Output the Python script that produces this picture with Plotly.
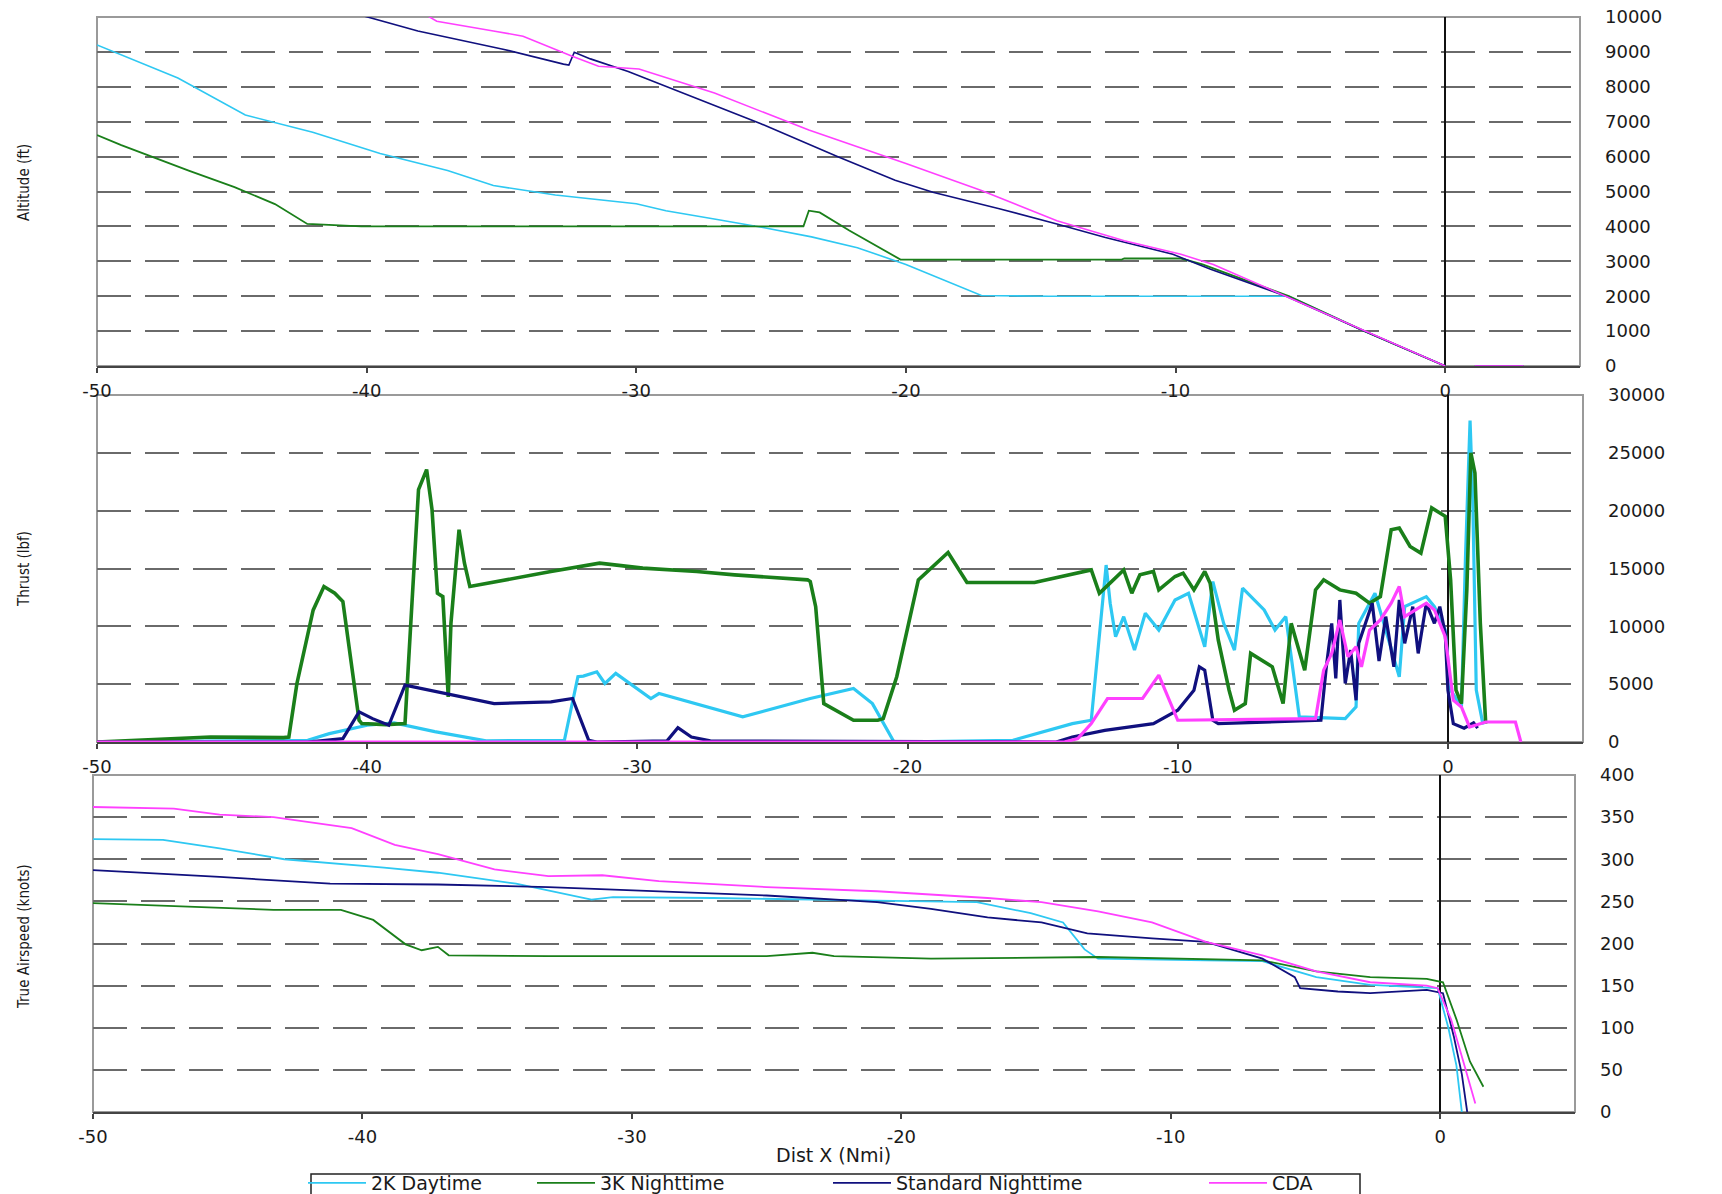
import plotly.graph_objects as go

# ---------------- data ----------------
series_names = ["2K Daytime", "3K Nighttime", "Standard Nighttime", "CDA"]
series_colors = ["#2EC8F2", "#1A7F1A", "#10107E", "#FF40FF"]

x_tickvals = [-50, -40, -30, -20, -10, 0]
x_ticktext = ["-50", "-40", "-30", "-20", "-10", "0"]

alt_tickvals = [0, 1000, 2000, 3000, 4000, 5000, 6000, 7000, 8000, 9000, 10000]
alt_ticktext = ["0", "1000", "2000", "3000", "4000", "5000", "6000", "7000", "8000", "9000", "10000"]
thr_tickvals = [0, 5000, 10000, 15000, 20000, 25000, 30000]
thr_ticktext = ["0", "5000", "10000", "15000", "20000", "25000", "30000"]
tas_tickvals = [0, 50, 100, 150, 200, 250, 300, 350, 400]
tas_ticktext = ["0", "50", "100", "150", "200", "250", "300", "350", "400"]

# Altitude (ft) vs distance (Nmi)
alt_2k_x = [-50, -47, -44.5, -42, -39.5, -37, -35.3, -33, -30, -28.9, -27, -25.3, -23.5, -21.8,
            -20.0, -17.2, -14.7, -10, -5.8, -3, 0]
alt_2k_y = [9200, 8250, 7190, 6700, 6090, 5600, 5170, 4900, 4650, 4450, 4200, 3970, 3700, 3390,
            2910, 2020, 2000, 2000, 2000, 1000, 0]

alt_3k_x = [-50, -49.1, -46.6, -44.9, -43.4, -42.2, -41, -40.2, -23.8, -23.6, -23.2, -22.1, -20.2,
            -12, -11.9, -9.8, -9.0, -5.8, -3, 0]
alt_3k_y = [6615, 6330, 5600, 5125, 4640, 4070, 4030, 4000, 4000, 4450, 4400, 3880, 3050,
            3050, 3080, 3080, 2910, 2000, 1000, 0]

alt_std_x = [-41, -40.2, -38.1, -34.9, -32.7, -32.5, -32.3, -31.7, -30.3, -28.9, -25.4, -22.5,
             -20.4, -19.0, -16.5, -14.4, -12.6, -10.1, -8.7, -5.9, -3, 0, None, 1.1, 2.9]
alt_std_y = [10200, 10050, 9600, 9070, 8650, 8620, 8990, 8800, 8440, 8010, 6950, 5990,
             5320, 4980, 4500, 4070, 3680, 3200, 2770, 2000, 1000, 0, None, 0, 0]

alt_cda_x = [-38, -37.4, -35.3, -34.2, -32.4, -31.4, -29.9, -27.1, -23.6, -20.0, -17.2, -14.4,
             -11.9, -9.8, -8.6, -5.9, -3, 0, None, 1.1, 2.9]
alt_cda_y = [10150, 9880, 9600, 9450, 8880, 8590, 8510, 7820, 6760, 5800, 5030, 4160,
             3590, 3200, 2910, 2000, 1000, 0, None, 0, 0]

# Thrust (lbf) vs distance (Nmi)
thr_2k_x = [-50, -42.2, -41.4, -40.0, -39.0, -37.5, -35.6, -32.7, -32.2, -32.0, -31.5, -31.2,
            -30.8, -29.5, -29.2, -26.1, -23.6, -22.0, -21.3, -20.5, -16.1, -13.9, -13.2, -12.9,
            -12.65, -12.5, -12.3, -12.0, -11.6, -11.2, -10.7, -10.1, -9.6, -9.0, -8.7, -8.3,
            -7.9, -7.6, -6.8, -6.4, -6.0, -5.8, -5.5, -3.8, -3.4, -3.3, -2.7, -2.3, -1.8, -1.6,
            -0.8, -0.5, -0.1, 0.1, 0.5, 0.65, 0.82, 0.92, 1.05, 1.3]
thr_2k_y = [0, 150, 720, 1450, 1650, 900, 100, 150, 5640, 5700, 6070, 5060,
            5930, 3760, 4190, 2170, 3760, 4620, 3320, 0, 150, 1590, 1880, 8820,
            15300, 12000, 9100, 10840, 7950, 11130, 9680, 12280, 12860, 8240, 13870, 10260,
            7950, 13300, 11420, 9680, 10840, 7370, 2170, 2020, 3030, 10260, 12860, 9680, 5640, 11700,
            12570, 11700, 9680, 4480, 3030, 15950, 27800, 21000, 4480, 1500]

thr_3k_x = [-50, -48.1, -45.8, -43.1, -42.9, -42.6, -42.0, -41.6, -41.2, -40.9, -40.7, -40.3,
            -40.2, -39.3, -38.6, -38.5, -38.3, -38.1, -37.8, -37.6, -37.4, -37.2, -37.0, -36.9,
            -36.6, -36.4, -36.2, -34.9, -33.2, -31.4, -29.8, -27.8, -26.4, -23.7, -23.6, -23.4,
            -23.1, -22.0, -21.1, -20.9, -20.4, -19.6, -18.5, -17.8, -15.3, -13.2, -12.9, -12.7,
            -12.0, -11.7, -11.4, -10.9, -10.7, -10.1, -9.8, -9.4, -9.0, -8.8, -8.5, -8.1,
            -7.9, -7.5, -7.3, -6.5, -6.1, -5.8, -5.3, -4.9, -4.6, -4.0, -3.4, -2.9,
            -2.5, -2.1, -1.8, -1.4, -1.0, -0.6, -0.3, -0.1, 0.1, 0.3, 0.5, 0.7,
            0.85, 1.0, 1.2, 1.4]
thr_3k_y = [0, 200, 430, 375, 430, 5060, 11400, 13440, 12860, 12140, 8530, 1880,
            1590, 1500, 1590, 5640, 13150, 21820, 23550, 20090, 12860, 12570, 3900, 10260,
            18350, 15460, 13440, 14020, 14740, 15460, 15030, 14740, 14450, 14020, 13870, 11700,
            3320, 1880, 1880, 2020, 5640, 14020, 16390, 13790, 13790, 14880, 12860, 13300,
            14880, 12860, 14450, 14740, 13150, 14310, 14600, 13150, 14740, 13720, 8820, 4480,
            2750, 3320, 7660, 6500, 3320, 10260, 6210, 13150, 14020, 13150, 12860, 12000,
            12570, 18350, 18500, 16900, 16330, 20240, 19800, 19510, 14020, 4480, 3320, 13150,
            25000, 23270, 10260, 1590]

thr_std_x = [-50, -42.2, -40.9, -40.3, -39.8, -39.2, -38.6, -37.1, -35.3, -33.2, -32.4, -31.8,
             -31.5, -28.9, -28.5, -28.0, -27.3, -14.5, -13.9, -12.7, -10.9, -10.0, -9.4, -9.2,
             -9.0, -8.7, -8.5, -4.7, -4.5, -4.3, -4.15, -4.0, -3.8, -3.6, -3.4, -3.3,
             -3.0, -2.8, -2.55, -2.3, -2.0, -1.8, -1.6, -1.3, -1.1, -0.8, -0.5, -0.3,
             -0.1, 0.0, 0.2, 0.6, 0.95, 1.1]
thr_std_y = [0, 0, 290, 2600, 2020, 1450, 4910, 4190, 3320, 3470, 3760, 150,
             0, 100, 1240, 430, 100, 0, 430, 1010, 1590, 2750, 4480, 6500,
             6210, 1880, 1590, 1880, 6500, 10260, 5500, 12280, 5060, 7950, 3610, 8530,
             10550, 12000, 7000, 10840, 6500, 12280, 8530, 11700, 7660, 12000, 10260, 11700,
             9390, 4480, 1590, 1200, 1660, 1200]

thr_cda_x = [-50, -14.2, -13.7, -13.2, -12.6, -11.3, -10.7, -10.0, -4.9, -4.6, -4.3, -4.0,
             -3.7, -3.4, -3.2, -2.9, -2.5, -2.1, -1.8, -1.6, -1.2, -0.8, -0.5, -0.1,
             0.2, 0.5, 0.8, 1.4, 2.5, 2.7]
thr_cda_y = [0, 0, 290, 1590, 3760, 3760, 5780, 1880, 2020, 6210, 7660, 10550,
             7370, 8240, 6500, 9680, 10550, 12000, 13440, 10840, 11420, 12000, 11420, 9100,
             3610, 3030, 1300, 1730, 1730, 0]

# True airspeed (knots) vs distance (Nmi)
tas_2k_x = [-50, -47.4, -45.3, -42.9, -39.2, -37.2, -34.3, -32.3, -31.5, -30.7, -27.0, -20.9,
            -17.2, -15.2, -14.0, -13.2, -12.7, -8.7, -6.6, -4.6, -2.6, -0.1, 0.3, 0.6, 0.8]
tas_2k_y = [324, 323, 313, 300, 290, 284, 271, 258, 252, 255, 254, 251,
            249, 236, 225, 193, 182, 180, 179, 160, 151, 147, 100, 55, 0]

tas_3k_x = [-50, -47.4, -43.3, -40.8, -39.6, -38.4, -37.8, -37.2, -36.8, -33.1, -25.0, -23.3,
            -22.5, -18.9, -12.7, -6.6, -4.6, -2.6, -0.5, 0.1, 0.6, 1.1, 1.6]
tas_3k_y = [248, 245, 240, 240, 228, 199, 192, 196, 186, 185, 185, 189,
            185, 182, 184, 180, 167, 160, 158, 154, 110, 60, 30]

tas_std_x = [-50, -45.3, -41.2, -37.2, -33.1, -29.0, -25.0, -20.9, -18.9, -16.8, -14.8, -13.1,
             -10.7, -8.7, -6.6, -5.4, -5.2, -3.8, -2.6, -0.5, 0.1, 0.5, 0.8, 1.0]
tas_std_y = [287, 279, 271, 270, 267, 262, 257, 249, 241, 231, 225, 212,
             206, 202, 182, 160, 147, 143, 141, 145, 141, 90, 45, 0]

tas_cda_x = [-50, -47, -45.3, -43.3, -40.4, -38.8, -37.2, -35.1, -33.1, -31.1, -29.0, -25.0,
             -20.9, -16.8, -14.8, -12.7, -10.7, -8.7, -6.6, -4.6, -2.6, -0.5, -0.1, 0.4, 0.9, 1.3]
tas_cda_y = [362, 360, 353, 350, 337, 317, 306, 288, 280, 281, 274, 267,
             262, 254, 249, 238, 225, 202, 186, 167, 154, 150, 147, 110, 55, 10]

# ---------------- figure ----------------
W, H = 1722, 1194


def xdom(left, right):
    return [left / W, right / W]


def ydom(top, bottom):
    return [1 - bottom / H, 1 - top / H]


legend_ids = ["legend", "legend2", "legend3", "legend4"]

fig = go.Figure()

panels = [
    ("x", "y", [(alt_2k_x, alt_2k_y), (alt_3k_x, alt_3k_y), (alt_std_x, alt_std_y), (alt_cda_x, alt_cda_y)],
     [1.6, 1.8, 1.6, 1.6]),
    ("x2", "y2", [(thr_2k_x, thr_2k_y), (thr_3k_x, thr_3k_y), (thr_std_x, thr_std_y), (thr_cda_x, thr_cda_y)],
     [3.2, 3.6, 3.2, 3.2]),
    ("x3", "y3", [(tas_2k_x, tas_2k_y), (tas_3k_x, tas_3k_y), (tas_std_x, tas_std_y), (tas_cda_x, tas_cda_y)],
     [1.8, 1.8, 1.8, 1.8]),
]

for p, (xa, ya, data, widths) in enumerate(panels):
    for i, (xs, ys) in enumerate(data):
        assert len(xs) == len(ys)
        fig.add_trace(go.Scatter(
            x=xs, y=ys, mode="lines", name=series_names[i],
            line=dict(color=series_colors[i], width=widths[i]),
            xaxis=xa, yaxis=ya, legendgroup=series_names[i],
            legend=legend_ids[i], showlegend=(p == 0), connectgaps=False,
        ))

tick_font = dict(family="DejaVu Sans", size=18, color="#1a1a1a")

x_common = dict(
    range=[-50, 5], tickvals=x_tickvals, ticktext=x_ticktext, tickfont=tick_font,
    showgrid=False, zeroline=True, zerolinecolor="#111111", zerolinewidth=1.5,
    showline=True, linecolor="#444444", linewidth=2,
    ticks="outside", ticklen=5, tickcolor="#444444", tickwidth=1.5,
    ticklabelstandoff=2, automargin=False, layer="below traces",
)
y_common = dict(
    side="right", tickfont=tick_font, showgrid=True, gridcolor="#6a6a6a", gridwidth=2,
    griddash="34px,14px", zeroline=False, showline=False, ticks="",
    ticklabelstandoff=24, automargin=False, layer="below traces",
)

fig.update_layout(
    xaxis=dict(domain=xdom(97, 1580), anchor="y", **x_common),
    yaxis=dict(domain=ydom(17, 366), anchor="x", range=[0, 10000],
               tickvals=alt_tickvals, ticktext=alt_ticktext, **y_common),
    xaxis2=dict(domain=xdom(97, 1583), anchor="y2", **x_common),
    yaxis2=dict(domain=ydom(395, 742), anchor="x2", range=[0, 30000],
                tickvals=thr_tickvals, ticktext=thr_ticktext, **y_common),
    xaxis3=dict(domain=xdom(93, 1575), anchor="y3", **x_common),
    yaxis3=dict(domain=ydom(775, 1112), anchor="x3", range=[0, 400],
                tickvals=tas_tickvals, ticktext=tas_ticktext, **y_common),
)

# light frame around each plotting area
for xa, ya in [("x", "y"), ("x2", "y2"), ("x3", "y3")]:
    fig.add_shape(type="rect", xref=f"{xa} domain", yref=f"{ya} domain",
                  x0=0, x1=1, y0=0, y1=1, line=dict(color="#9a9a9a", width=2),
                  fillcolor="rgba(0,0,0,0)", layer="below")

title_font = dict(family="Liberation Sans Narrow, DejaVu Sans Condensed, Liberation Sans, sans-serif",
                  size=15, color="#1a1a1a")
y_titles = [("Altitude (ft)", 183), ("Thrust (lbf)", 569), ("True Airspeed (knots)", 937)]
for text, yc in y_titles:
    fig.add_annotation(text=text, xref="paper", yref="paper", x=24 / W, y=1 - yc / H,
                       textangle=-90, showarrow=False, font=title_font,
                       xanchor="center", yanchor="middle")

fig.add_annotation(text="Dist X (Nmi)", xref="paper", yref="paper", x=833 / W, y=1 - 1155 / H,
                   showarrow=False, xanchor="center", yanchor="middle",
                   font=dict(family="DejaVu Sans, sans-serif", size=19, color="#1a1a1a"))

# box enclosing the legend entries (bottom edge runs past the page)
fig.add_shape(type="rect", xref="paper", yref="paper", x0=311 / W, x1=1360 / W,
              y0=-0.02, y1=1 - 1174 / H, line=dict(color="#222222", width=1.5),
              fillcolor="white", layer="below")

legend_font = dict(family="DejaVu Sans, sans-serif", size=19, color="#1a1a1a")
legend_text_left = [373, 602, 898, 1274]
legend_symbol_width = 58
legend_layout = {}
for lid, tx in zip(legend_ids, legend_text_left):
    legend_layout[lid] = dict(
        orientation="h", x=(tx - legend_symbol_width - 12) / W, xanchor="left",
        y=1 - 1164 / H, yanchor="top", itemwidth=legend_symbol_width,
        borderwidth=0, bgcolor="rgba(0,0,0,0)", font=legend_font,
    )

fig.update_layout(
    width=W, height=H,
    margin=dict(l=0, r=0, t=0, b=0, autoexpand=False),
    paper_bgcolor="white", plot_bgcolor="white",
    showlegend=True,
    **legend_layout,
)

fig.write_html("out.html")
